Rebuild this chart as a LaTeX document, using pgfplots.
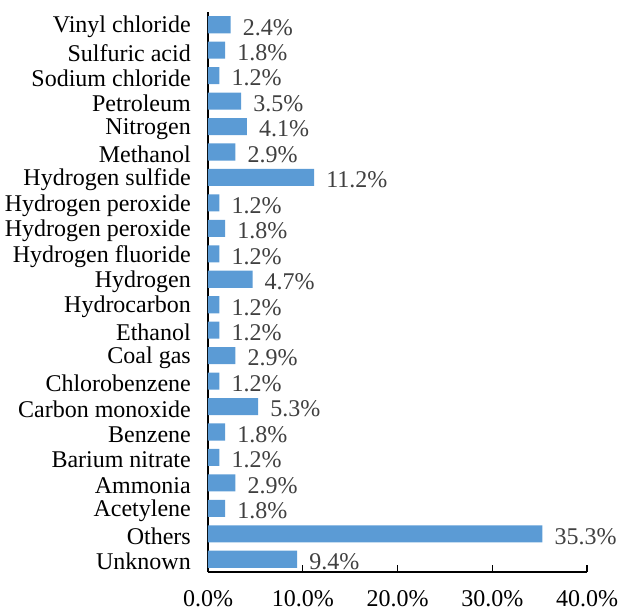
\documentclass[border=0pt]{standalone}
\usepackage{fontspec}
\setmainfont{Liberation Serif}
\usepackage{pgfplots}
\pgfplotsset{compat=1.18}
\definecolor{barblue}{HTML}{5B9BD5}
\definecolor{lblgray}{HTML}{404040}
\begin{document}
\fontsize{24bp}{28bp}\selectfont
\begin{tikzpicture}
\useasboundingbox (-208bp,-39bp) rectangle (411bp,572bp);
\begin{axis}[
  at={(0,0)}, anchor=south west,
  scale only axis,
  width=379bp, height=560bp,
  xmin=0, xmax=40,
  ymin=-0.5, ymax=21.5,
  xbar, bar width=0.67,
  /pgf/number format/assume math mode=true,
  axis x line*=bottom,
  axis y line*=left,
  axis line style={black, line width=1.3bp},
  xtick={0,10,20,30,40},
  xticklabels={0.0\%,10.0\%,20.0\%,30.0\%,40.0\%},
  xtick pos=bottom,
  xtick style={black, line width=1.3bp},
  major tick length=7bp,
  tick align=inside,
  x tick label style={font=\fontsize{24bp}{28bp}\selectfont, black, yshift=-10bp},
  ytick={0,...,21},
  yticklabels={Unknown,Others,Acetylene,Ammonia,Barium nitrate,Benzene,Carbon monoxide,Chlorobenzene,Coal gas,Ethanol,Hydrocarbon,Hydrogen,Hydrogen fluoride,Hydrogen peroxide,Hydrogen peroxide,Hydrogen sulfide,Methanol,Nitrogen,Petroleum,Sodium chloride,Sulfuric acid,Vinyl chloride},
  ytick style={draw=none},
  y tick label style={font=\fontsize{24bp}{28bp}\selectfont, black, anchor=east, xshift=-9bp, yshift=-2.5bp},
  nodes near coords={\pgfmathprintnumber[fixed,fixed zerofill,precision=1,assume math mode=true]{\pgfplotspointmeta}\%},
  point meta=explicit,
  every node near coord/.append style={font=\fontsize{24bp}{28bp}\selectfont, text=lblgray, anchor=west, xshift=4bp, yshift=-2.5bp},
]
\addplot[fill=barblue, draw=none] table[x=v, y=y, meta=v] {
y v
0 9.4
1 35.3
2 1.8
3 2.9
4 1.2
5 1.8
6 5.3
7 1.2
8 2.9
9 1.2
10 1.2
11 4.7
12 1.2
13 1.8
14 1.2
15 11.2
16 2.9
17 4.1
18 3.5
19 1.2
20 1.8
21 2.4
};
\end{axis}
\end{tikzpicture}
\end{document}
